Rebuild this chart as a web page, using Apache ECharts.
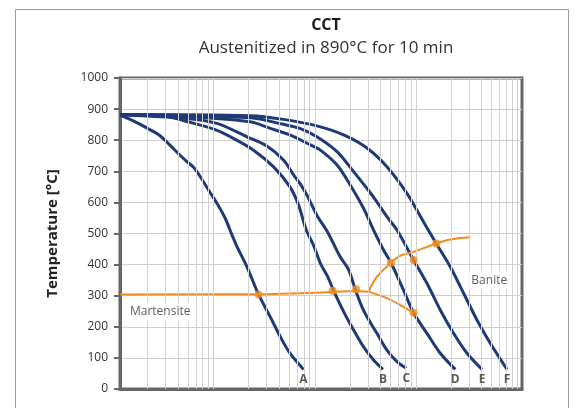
<!DOCTYPE html>
<html>
<head>
<meta charset="utf-8">
<script src="https://cdn.jsdelivr.net/npm/echarts@6/dist/echarts.min.js"></script>
<style>
html, body { margin: 0; padding: 0; background: #fff; }
#chart { width: 579px; height: 408px; }
</style>
</head>
<body>
<div id="chart"></div>
<script>
// cooling curves, [time (log axis), temperature °C]
const curveA = [[1.07, 881], [1.5, 860], [2.0, 838], [2.6, 817], [3.2, 790], [4.0, 758], [4.9, 731], [5.7, 713], [6.6, 684], [8.0, 640], [9.7, 597], [11.7, 549], [13.6, 497], [15.3, 458], [19.2, 393], [25, 304], [32.6, 232], [41, 168], [51, 115], [69.5, 63]];
const curveB = [[1.07, 882], [3, 877], [4.9, 860], [9.3, 834], [14.1, 806], [22.3, 768], [35, 715], [51, 650], [62, 592], [74, 511], [87, 463], [102, 404], [121, 360], [137, 318], [173, 249], [217, 190], [272, 136], [342, 93], [423, 63]];
const curveC = [[1.07, 882], [4.9, 870], [9.7, 854], [19.2, 811], [30.2, 781], [44, 736], [55.6, 688], [64, 661], [75, 624], [94, 559], [120, 505], [160, 425], [194, 383], [225, 321], [262, 265], [294, 232], [369, 179], [463, 125], [582, 88], [719, 67]];
const curveD = [[1.07, 882], [6.6, 873], [20.7, 859], [32.6, 838], [51, 817], [81, 785], [102, 768], [149, 720], [201, 656], [272, 581], [342, 511], [429, 447], [508, 406], [676, 318], [849, 245], [1151, 179], [1558, 115], [2193, 63]];
const curveE = [[1.07, 883], [20.7, 872], [44, 851], [64, 838], [94, 811], [149, 763], [217, 699], [294, 645], [342, 617], [463, 554], [582, 511], [849, 415], [1151, 340], [1558, 254], [2110, 179], [2863, 115], [4027, 63]];
const curveF = [[1.07, 883], [20.7, 879], [44, 867], [94, 846], [173, 817], [294, 775], [463, 715], [731, 629], [1066, 537], [1422, 468], [1956, 393], [2649, 308], [3591, 222], [4860, 147], [7112, 63]];
const curveNames = ['A', 'B', 'C', 'D', 'E', 'F'];
const curves = [curveA, curveB, curveC, curveD, curveE, curveF];

// transformation lines
const martensiteLine = [[1.07, 304], [25, 305], [64, 308], [137, 312], [225, 315], [305, 313]];
const baniteUpper = [[305, 313], [369, 361], [508, 406], [627, 428], [849, 441], [1422, 468], [1956, 481], [3083, 488]];
const baniteLower = [[305, 313], [463, 292], [627, 270], [849, 245]];
const transformPoints = [[25, 304], [135, 316], [230, 321], [508, 406], [849, 415], [1422, 468], [849, 245]];

const regionLabels = [['Martensite', 2.67, 248], ['Banite', 4750, 350]];

// log grid lines (2..9 in every decade)
const minorGrid = [2, 3, 4, 5, 6, 7, 8, 9, 20, 30, 40, 50, 60, 70, 80, 90,
	200, 300, 400, 500, 600, 700, 800, 900, 2000, 3000, 4000, 5000, 6000, 7000, 8000, 9000];

const navy = '#1f3a76';
const orange = '#f28b1d';
const font = 'Open Sans';

let chart = echarts.init(document.getElementById('chart'));

let series = [];

// grid lines
series.push({
	type: 'line',
	data: [],
	silent: true,
	z: 1,
	markLine: {
		silent: true,
		symbol: ['none', 'none'],
		label: { show: false },
		lineStyle: { color: '#d2d2d2', width: 1, type: 'solid' },
		data: minorGrid.map(v => ({ xAxis: v }))
	}
});

curves.forEach((c, i) => {
	series.push({
		name: curveNames[i],
		type: 'line',
		data: c,
		showSymbol: false,
		smooth: 0.3,
		z: 3,
		lineStyle: { color: navy, width: 3 }
	});
});

[martensiteLine, baniteUpper, baniteLower].forEach(l => {
	series.push({
		type: 'line',
		data: l,
		showSymbol: false,
		smooth: 0.3,
		z: 4,
		lineStyle: { color: orange, width: 2 }
	});
});

series.push({
	type: 'scatter',
	data: transformPoints,
	symbolSize: 8,
	z: 5,
	itemStyle: { color: orange }
});

// curve letters under the end of each curve
series.push({
	type: 'scatter',
	symbolSize: 0,
	z: 5,
	data: curves.map((c, i) => ({ name: curveNames[i], value: c[c.length - 1] })),
	label: {
		show: true,
		position: 'bottom',
		distance: 4,
		formatter: p => p.name,
		fontFamily: font,
		fontSize: 12,
		fontWeight: 'bold',
		color: '#333'
	}
});

series.push({
	type: 'scatter',
	symbolSize: 0,
	z: 6,
	data: regionLabels.map(r => ({ name: r[0], value: [r[1], r[2]] })),
	label: {
		show: true,
		position: 'inside',
		formatter: p => p.name,
		fontFamily: font,
		fontSize: 12,
		color: '#333',
		backgroundColor: '#fff',
		padding: [3, 5]
	}
});

chart.setOption({
	animation: false,
	title: {
		text: 'CCT',
		subtext: 'Austenitized in 890°C for 10 min',
		left: 321,
		top: 12,
		textAlign: 'center',
		itemGap: 7,
		textStyle: { fontFamily: font, fontSize: 16, fontWeight: 'bold', color: '#1a1a1a' },
		subtextStyle: { fontFamily: font, fontSize: 17, color: '#333' }
	},
	graphic: [{
		type: 'rect',
		left: 13,
		top: 7,
		shape: { width: 553, height: 430 },
		style: { fill: 'none', stroke: '#9a9a9a', lineWidth: 1 },
		silent: true
	}],
	grid: {
		left: 120,
		right: 57,
		top: 78,
		bottom: 19,
		show: true,
		borderColor: '#666',
		borderWidth: 3
	},
	xAxis: {
		type: 'log',
		logBase: 10,
		min: 1.07,
		max: 10000,
		axisLine: { show: true, lineStyle: { color: '#666', width: 3 } },
		axisTick: { show: false },
		axisLabel: { show: false },
		splitLine: { show: false }
	},
	yAxis: {
		type: 'value',
		min: 0,
		max: 1000,
		interval: 100,
		name: 'Temperature [°C]',
		nameLocation: 'middle',
		nameGap: 60,
		nameTextStyle: { fontFamily: font, fontSize: 15, fontWeight: 'bold', color: '#222' },
		axisLine: { show: true, lineStyle: { color: '#666', width: 3 } },
		axisTick: { show: true, length: 6, lineStyle: { color: '#666', width: 2 } },
		axisLabel: { fontFamily: font, fontSize: 12, color: '#333', margin: 12, formatter: v => String(v) },
		splitLine: { show: true, lineStyle: { color: '#cfcfcf', width: 1 } }
	},
	series: series
});
</script>
</body>
</html>
